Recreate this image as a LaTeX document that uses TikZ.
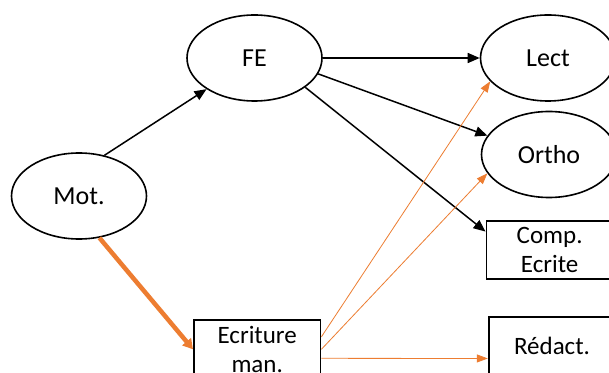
\documentclass[tikz,border=0pt]{standalone}
\usepackage{fontspec}
\setmainfont{Carlito}
\usetikzlibrary{shapes.geometric,arrows.meta,calc}
\definecolor{office}{HTML}{ED7D31}
\begin{document}
\begin{tikzpicture}[x=1pt,y=1pt,
  ell/.style={draw,line width=1.6pt,ellipse,minimum width=135pt,minimum height=86pt,inner sep=0pt,font=\fontsize{26}{30}\selectfont},
  boxn/.style={draw,line width=1.8pt,rectangle,minimum width=126.6pt,minimum height=58.6pt,inner sep=0pt,align=center,font=\fontsize{25}{28.5}\selectfont},
  blk/.style={line width=1.5pt,-{Triangle[length=12pt,width=10pt]}},
  orth/.style={line width=0.8pt,draw=office,-{Triangle[length=11pt,width=8pt,fill=office]}},
  orthick/.style={line width=4.5pt,draw=office,-{Triangle[length=10pt,width=11pt,fill=office]}}]
\useasboundingbox (0,0) rectangle (609,372);
\clip (0,0) rectangle (609,372);
\fill[white] (0,0) rectangle (609,372);
\node[ell] (FE) at (254.5,314) {FE};
\node[ell] (Lect) at (548,314) {Lect};
\node[ell] (Ortho) at (549,217.5) {Ortho};
\node[ell] (Mot) at (79,176) {Mot.};
\node[boxn] (Comp) at (549.7,122) {Comp.\\Ecrite};
\node[boxn] (Redact) at (552,26) {Rédact.};
\node[boxn] (Ecr) at (257.2,22.7) {Ecriture\\man.};
\draw[blk] (Mot.58) -- (FE.213);
\draw[blk] (FE.east) -- (Lect.west);
\draw[blk] (FE.-14) -- (Ortho.163);
\draw[blk] (FE.-30.5) -- (Comp.164);
\draw[orthick] (Mot.-64) -- (Ecr.west);
\draw[orth] (Ecr.11) -- (Lect.202);
\draw[orth] (Ecr.east) -- (Ortho.197);
\draw[orth] (Ecr.-8) -- (Redact.191.6);
\end{tikzpicture}
\end{document}
